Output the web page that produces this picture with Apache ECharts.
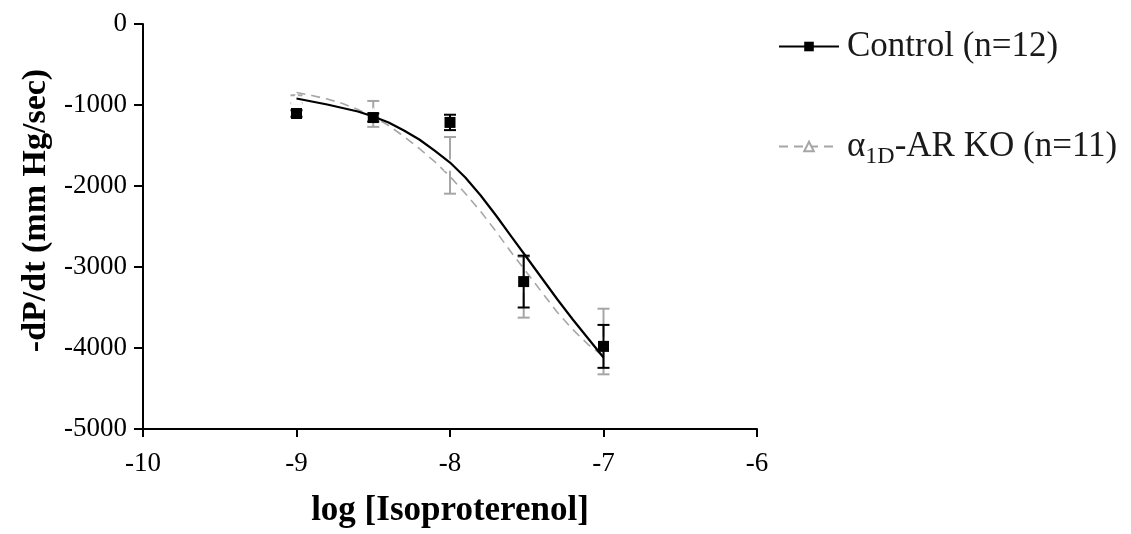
<!DOCTYPE html>
<html>
<head>
<meta charset="utf-8">
<script src="https://cdn.jsdelivr.net/npm/echarts@6/dist/echarts.min.js"></script>
<style>html,body{margin:0;padding:0;background:#fff}#c{width:1131px;height:534px}</style>
</head>
<body>
<div id="c"></div>
<script>
// Data
var xTicks = [-10, -9, -8, -7, -6];
var doseX = [-9, -8.5, -8, -7.52, -7];
var ctrlMean = [-1105, -1155, -1215, -3180, -3980];
var ctrlErr = [40, 50, 95, 320, 265];
var koMean = [-930, -1110, -1745, -3250, -3920];
var koErr = [50, 160, 350, 375, 405];
var curveX = [-9.0, -8.9, -8.8, -8.7, -8.6, -8.5, -8.4, -8.3, -8.2, -8.1, -8.0, -7.9, -7.8, -7.7, -7.6, -7.5, -7.4, -7.3, -7.2, -7.1, -7.0];
var ctrlCurve = [-920, -957, -994, -1037, -1080, -1142, -1216, -1315, -1426, -1562, -1710, -1895, -2117, -2364, -2624, -2883, -3142, -3401, -3648, -3883, -4117];
var koCurve = [-846, -883, -926, -981, -1056, -1142, -1253, -1389, -1537, -1698, -1883, -2093, -2315, -2562, -2821, -3068, -3315, -3562, -3772, -3957, -4105];
var ctrlName = 'Control (n=12)';
var koName = 'α1D-AR KO (n=11)';

function zip(a, b) { return a.map(function (v, i) { return [v, b[i]]; }); }
function zip3(a, b, c) { return a.map(function (v, i) { return [v, b[i], c[i]]; }); }

function errRender(color) {
  return function (params, api) {
    var x = api.value(0), y = api.value(1), e = api.value(2);
    var t = api.coord([x, y + e]), b = api.coord([x, y - e]);
    var hw = 6;
    var st = { stroke: color, lineWidth: 2 };
    return { type: 'group', children: [
      { type: 'line', shape: { x1: t[0], y1: t[1], x2: b[0], y2: b[1] }, style: st },
      { type: 'line', shape: { x1: t[0] - hw, y1: t[1], x2: t[0] + hw, y2: t[1] }, style: st },
      { type: 'line', shape: { x1: b[0] - hw, y1: b[1], x2: b[0] + hw, y2: b[1] }, style: st }
    ]};
  };
}

var serif = '"Liberation Serif", "Times New Roman", serif';
var gray = '#a6a6a6';
var chart = echarts.init(document.getElementById('c'), null, { renderer: 'canvas' });
chart.setOption({
  animation: false,
  backgroundColor: '#fff',
  grid: { left: 143, top: 24, width: 614, height: 405, containLabel: false },
  legend: {
    orient: 'vertical', left: 773, top: 24, itemWidth: 60, itemHeight: 12, itemGap: 65,
    data: [ctrlName, koName],
    formatter: function (n) {
      if (n === koName) return '{a|α}{s|1D}{a|-AR KO (n=11)}';
      return '{a|' + n + '}';
    },
    textStyle: {
      fontFamily: serif, fontSize: 35, color: '#1a1a1a', padding: [0, 0, 0, 3],
      rich: {
        a: { fontFamily: serif, fontSize: 35, color: '#1a1a1a', lineHeight: 44 },
        s: { fontFamily: serif, fontSize: 24, color: '#1a1a1a', verticalAlign: 'bottom', padding: [14, 0, 0, 0], lineHeight: 44 }
      }
    }
  },
  xAxis: {
    type: 'value', min: -10, max: -6, interval: 1,
    name: 'log [Isoproterenol]', nameLocation: 'middle', nameGap: 64,
    nameTextStyle: { fontFamily: serif, fontSize: 35, fontWeight: 'bold', color: '#000' },
    axisLine: { onZero: false, lineStyle: { color: '#000', width: 2 } },
    axisTick: { length: 8, lineStyle: { color: '#000', width: 2 } },
    axisLabel: { fontFamily: serif, fontSize: 27, color: '#000', margin: 21,
      formatter: function (v) { return xTicks.indexOf(v) >= 0 ? String(v) : ''; } },
    splitLine: { show: false }
  },
  yAxis: {
    type: 'value', min: -5000, max: 0, interval: 1000,
    name: '-dP/dt (mm Hg/sec)', nameLocation: 'middle', nameRotate: 90, nameGap: 86,
    nameTextStyle: { fontFamily: serif, fontSize: 34, fontWeight: 'bold', color: '#000', padding: [0, 0, 0, 32] },
    axisLine: { onZero: false, lineStyle: { color: '#000', width: 2 } },
    axisTick: { length: 9, lineStyle: { color: '#000', width: 2 } },
    axisLabel: { fontFamily: serif, fontSize: 27, color: '#000', margin: 16,
      formatter: function (v) { return String(v); } },
    splitLine: { show: false }
  },
  series: [
    {
      name: koName, type: 'line', data: zip(curveX, koCurve), smooth: false,
      showSymbol: false, symbol: 'emptyTriangle', symbolSize: 9,
      lineStyle: { color: gray, width: 1.6, type: [9, 6] },
      itemStyle: { color: gray, borderColor: gray, borderWidth: 1.2 }, z: 2
    },
    {
      name: 'koErr', type: 'custom', data: zip3(doseX, koMean, koErr),
      renderItem: errRender(gray), z: 2
    },
    {
      name: 'koPts', type: 'scatter', data: zip(doseX, koMean), symbol: 'emptyTriangle', symbolSize: 9,
      itemStyle: { color: '#fff', borderColor: gray, borderWidth: 1.2, opacity: 1 }, z: 3
    },
    {
      name: ctrlName, type: 'line', data: zip(curveX, ctrlCurve), smooth: false,
      showSymbol: false, symbol: 'rect', symbolSize: 10,
      lineStyle: { color: '#000', width: 2.2 },
      itemStyle: { color: '#000' }, z: 4
    },
    {
      name: 'ctrlErr', type: 'custom', data: zip3(doseX, ctrlMean, ctrlErr),
      renderItem: errRender('#000'), z: 4
    },
    {
      name: 'ctrlPts', type: 'scatter', data: zip(doseX, ctrlMean), symbol: 'rect', symbolSize: 11,
      itemStyle: { color: '#000', opacity: 1 }, z: 5
    }
  ]
});
</script>
</body>
</html>
